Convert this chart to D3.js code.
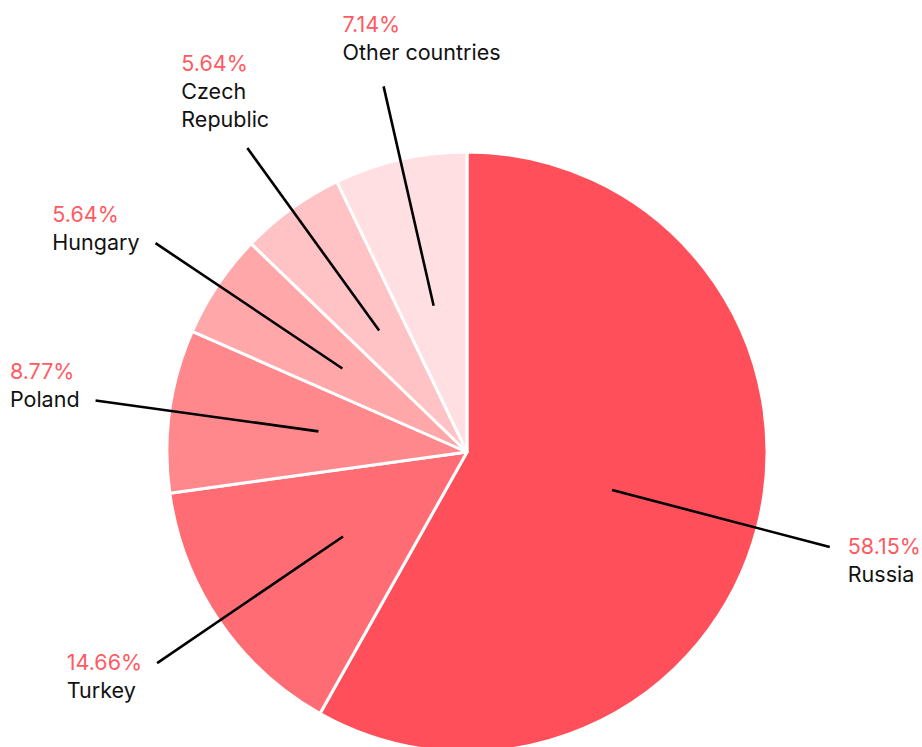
<!DOCTYPE html>
<html>
<head>
<meta charset="utf-8">
<script src="https://cdn.jsdelivr.net/npm/d3@7"></script>
<style>
  html, body { margin: 0; padding: 0; background: #ffffff; }
  svg { display: block; }
  text { font-family: Inter, Roboto, "Noto Sans", sans-serif; font-size: 21.5px; }
</style>
</head>
<body>
<svg id="chart" width="922" height="747"></svg>
<script>
const categories = ["Russia", "Turkey", "Poland", "Hungary", "Czech Republic", "Other countries"];
const shares = [58.15, 14.66, 8.77, 5.64, 5.64, 7.14];
const percentLabels = ["58.15%", "14.66%", "8.77%", "5.64%", "5.64%", "7.14%"];
const nameLines = [["Russia"], ["Turkey"], ["Poland"], ["Hungary"], ["Czech", "Republic"], ["Other countries"]];

const colors = ["#ff4f5a", "#ff6c74", "#ff888d", "#ffa7a9", "#ffc3c6", "#ffdfe1"];
const pctColor = "#ff5a62";

const width = 922, height = 747;
const cx = 467, cy = 452, R = 300;
const lineGap = 28;

const svg = d3.select("#chart");
const g = svg.append("g").attr("transform", `translate(${cx},${cy})`);

const data = categories.map((c, i) => ({ name: c, value: shares[i], i }));
const pie = d3.pie().value(d => d.value).sort(null);
const arcs = pie(data);
const arc = d3.arc().innerRadius(0).outerRadius(R);

g.selectAll("path.slice")
  .data(arcs)
  .join("path")
  .attr("class", "slice")
  .attr("d", arc)
  .attr("fill", d => colors[d.data.i])
  .attr("stroke", "#ffffff")
  .attr("stroke-width", 3)
  .attr("stroke-linejoin", "round");

const innerArc = d3.arc().innerRadius(R * 0.5).outerRadius(R * 0.5);
const outerArc = d3.arc().innerRadius(R * 1.25).outerRadius(R * 1.25);

// leader lines
g.selectAll("line.leader")
  .data(arcs)
  .join("line")
  .attr("class", "leader")
  .attr("x1", d => innerArc.centroid(d)[0])
  .attr("y1", d => innerArc.centroid(d)[1])
  .attr("x2", d => outerArc.centroid(d)[0])
  .attr("y2", d => outerArc.centroid(d)[1])
  .attr("stroke", "#000")
  .attr("stroke-width", 2.6);

// labels
const labels = g.selectAll("g.label")
  .data(arcs)
  .join("g")
  .attr("class", "label");

labels.each(function(d) {
  const grp = d3.select(this);
  const i = d.data.i;
  const lines = [{ t: percentLabels[i], c: pctColor }].concat(nameLines[i].map(t => ({ t, c: "#111111" })));
  grp.selectAll("text")
    .data(lines)
    .join("text")
    .attr("x", 0)
    .attr("y", (l, k) => k * lineGap)
    .attr("fill", l => l.c)
    .text(l => l.t);

  const bb = this.getBBox();
  const [ex, ey] = outerArc.centroid(d);
  const mid = (d.startAngle + d.endAngle) / 2;
  const sx = Math.sin(mid), sy = -Math.cos(mid);
  const n = lines.length;
  let tx, ty;
  const half = 7; // approx half cap-height to vertically center a line
  if (sy < -0.8) {
    // top labels: block sits above the line end
    const steep = sx < -0.4;
    tx = ex - (steep ? 66 : 41);
    ty = ey - (steep ? 28 : 33) - (n - 1) * lineGap + half;
  } else if (sx > 0) {
    tx = ex + 18;
    ty = ey + half;
  } else if (sy > 0) {
    tx = ex - 15 - bb.width;
    ty = ey + half;
  } else {
    tx = ex - 16 - bb.width;
    ty = ey - (n - 1) * lineGap + half;
  }
  grp.attr("transform", `translate(${tx},${ty})`);
});
</script>
</body>
</html>
